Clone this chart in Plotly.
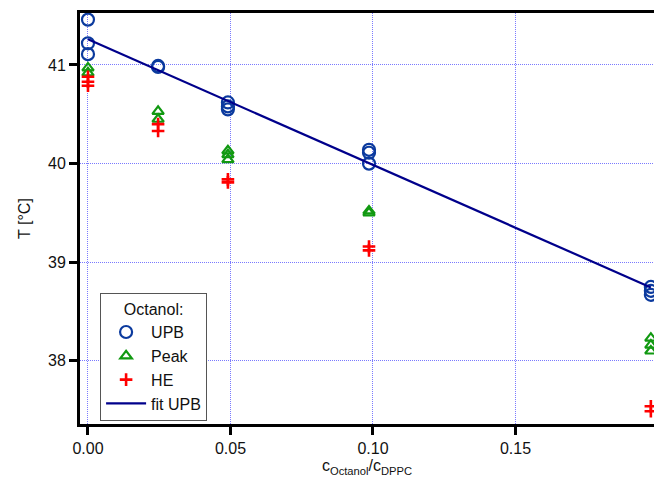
import plotly.graph_objects as go

# UPB data
upb_x = [0, 0, 0, 0.0246, 0.0246, 0.0491, 0.0491, 0.0491, 0.0986, 0.0986, 0.0986, 0.1975, 0.1975, 0.1975]
upb_y = [41.46, 41.22, 41.11, 40.99, 40.98, 40.62, 40.58, 40.55, 40.14, 40.11, 40.00, 38.75, 38.71, 38.67]

# Peak data
peak_x = [0, 0, 0.0246, 0.0246, 0.0491, 0.0491, 0.0491, 0.0986, 0.0986, 0.1975, 0.1975, 0.1975]
peak_y = [40.97, 40.92, 40.53, 40.45, 40.13, 40.09, 40.04, 39.52, 39.50, 38.23, 38.16, 38.10]

# HE data
he_x = [0, 0, 0, 0.0246, 0.0246, 0.0491, 0.0491, 0.0986, 0.0986, 0.1975, 0.1975]
he_y = [40.88, 40.83, 40.79, 40.40, 40.33, 39.84, 39.81, 39.16, 39.12, 37.54, 37.49]

# Fit line
fit_x = [0, 0.1975]
fit_y = [41.26, 38.745]

x_ticks = [0, 0.05, 0.10, 0.15]
x_ticklabels = ["0.00", "0.05", "0.10", "0.15"]
y_ticks = [38, 39, 40, 41]

fig = go.Figure()
fig.add_trace(go.Scatter(x=upb_x, y=upb_y, mode="markers", name="UPB",
                         marker=dict(symbol="circle-open", size=12, color="#0b3a9e",
                                     line=dict(width=2.2, color="#0b3a9e"))))
fig.add_trace(go.Scatter(x=peak_x, y=peak_y, mode="markers", name="Peak",
                         marker=dict(symbol="triangle-up-open", size=10, color="#119911",
                                     line=dict(width=2.2, color="#119911"))))
fig.add_trace(go.Scatter(x=he_x, y=he_y, mode="markers", name="HE",
                         marker=dict(symbol="cross-thin-open", size=9, color="#ff0000",
                                     line=dict(width=2.6, color="#ff0000"))))
fig.add_trace(go.Scatter(x=fit_x, y=fit_y, mode="lines", name="fit UPB",
                         line=dict(color="#00008b", width=2.2)))

grid_style = dict(showgrid=True, gridcolor="#7a7aff", griddash="1px,1px", gridwidth=1)

fig.update_layout(
    width=654, height=483,
    margin=dict(l=80, r=0, t=13, b=59),
    plot_bgcolor="white", paper_bgcolor="white",
    font=dict(family="Liberation Sans, Arial, sans-serif", size=16, color="#111111"),
    showlegend=True,
    legend=dict(x=0.035, y=0.318, xanchor="left", yanchor="top",
                bgcolor="white", bordercolor="#555555", borderwidth=1,
                title=dict(text="Octanol:", font=dict(size=16), side="top center"),
                font=dict(size=16), tracegroupgap=0, itemwidth=40),
    xaxis=dict(range=[-0.0028, 0.1986], tickvals=x_ticks, ticktext=x_ticklabels,
               showline=True, linecolor="black", linewidth=3, mirror=True,
               ticks="outside", ticklen=8, tickwidth=3, tickcolor="black",
               zeroline=False, **grid_style,
               title=dict(text="c<sub>Octanol</sub>/c<sub>DPPC</sub>", font=dict(size=16), standoff=2)),
    yaxis=dict(range=[37.36, 41.527], tickvals=y_ticks,
               showline=True, linecolor="black", linewidth=3, mirror=False,
               ticks="outside", ticklen=8, tickwidth=3, tickcolor="black",
               zeroline=False, **grid_style,
               title=dict(text="T [°C]", font=dict(size=16), standoff=14)),
)

fig.write_html("out.html")
